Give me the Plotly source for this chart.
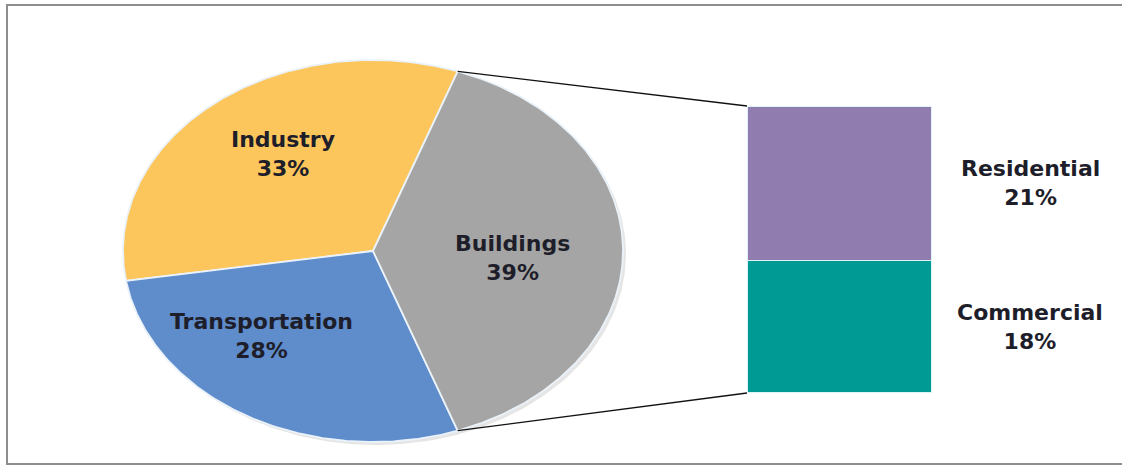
import numpy as np
import plotly.graph_objects as go

# ---------------- data ----------------
pie_labels = ["Industry", "Transportation", "Buildings"]
pie_values = [33, 28, 39]
pie_colors = ["#FCC65C", "#5F8CCB", "#A5A5A5"]

bar_labels = ["Residential", "Commercial"]
bar_values = [21, 18]
bar_colors = ["#917CAF", "#009A95"]

# ---------------- layout constants (pixels) ----------------
W, H = 1122, 465
CX, CY, RX, RY = 373, 251, 250, 191          # ellipse of the pie
BAR_X0, BAR_X1, BAR_Y0, BAR_Y1 = 747, 932, 106, 393
FONT = dict(family="DejaVu Sans", size=22, color="#1e1e2a")
pie_label_pos = {"Industry": (283, 154), "Transportation": (261, 336), "Buildings": (512, 258)}
bar_label_x = 1030

fig = go.Figure()

# frame: open on the right side (right edge lies outside the picture)
fig.add_trace(go.Scatter(x=[W + 20, 7, 7, W + 20], y=[5, 5, 464, 464], mode="lines",
                         line=dict(color="#8E8E8E", width=2), hoverinfo="skip",
                         showlegend=False, xaxis="x", yaxis="y"))

# shadow of pie
t = np.linspace(0, 2 * np.pi, 300)
fig.add_trace(go.Scatter(x=CX + 3 + RX * np.cos(t), y=CY + 3 - RY * np.sin(t), mode="lines",
                         fill="toself", fillcolor="rgba(0,0,0,0.10)", line=dict(width=0),
                         hoverinfo="skip", showlegend=False, xaxis="x", yaxis="y"))

# pie slices: Buildings (the split-off slice) centered at 0 deg, others counterclockwise
total = sum(pie_values)
b_idx = pie_labels.index("Buildings")
start = np.deg2rad(pie_values[b_idx] / total * 180.0)
angles = {}
a = start
for lab, val in zip(pie_labels, pie_values):
    if lab == "Buildings":
        continue
    span = val / total * 2 * np.pi
    angles[lab] = (a, a + span)
    a += span
angles["Buildings"] = (-start, start)

for lab, val, col in zip(pie_labels, pie_values, pie_colors):
    a0, a1 = angles[lab]
    th = np.linspace(a0, a1, 200)
    xs = np.concatenate([[CX], CX + RX * np.cos(th), [CX]])
    ys = np.concatenate([[CY], CY - RY * np.sin(th), [CY]])
    fig.add_trace(go.Scatter(x=xs, y=ys, mode="lines", fill="toself", fillcolor=col,
                             line=dict(color="#EAF2FA", width=1.8), name=lab,
                             hoverinfo="name", showlegend=False, xaxis="x", yaxis="y"))
    lx, ly = pie_label_pos[lab]
    fig.add_annotation(x=lx, y=ly, xref="x", yref="y", showarrow=False, xanchor="center",
                       yanchor="middle", text=f"<b>{lab}<br>{val}%</b>", font=FONT, align="center")

# connector lines from Buildings slice edges to the bar corners
top_pt = (CX + RX * np.cos(start), CY - RY * np.sin(start))
bot_pt = (CX + RX * np.cos(-start), CY - RY * np.sin(-start))
fig.add_trace(go.Scatter(x=[top_pt[0], BAR_X0], y=[top_pt[1], BAR_Y0], mode="lines",
                         line=dict(color="#111111", width=1.3), hoverinfo="skip",
                         showlegend=False, xaxis="x", yaxis="y"))
fig.add_trace(go.Scatter(x=[bot_pt[0], BAR_X0], y=[bot_pt[1], BAR_Y1], mode="lines",
                         line=dict(color="#111111", width=1.3), hoverinfo="skip",
                         showlegend=False, xaxis="x", yaxis="y"))

# stacked bar (Commercial at bottom, Residential on top)
for lab, val, col in reversed(list(zip(bar_labels, bar_values, bar_colors))):
    fig.add_trace(go.Bar(x=[0], y=[val], name=lab, marker=dict(color=col, line=dict(color="#DDF4F6", width=1.2)),
                         width=1.0, showlegend=False, xaxis="x2", yaxis="y2", hoverinfo="name+y"))
base = 0
centers = {}
for lab, val in reversed(list(zip(bar_labels, bar_values))):
    centers[lab] = base + val / 2
    base += val
for lab, val in zip(bar_labels, bar_values):
    fig.add_annotation(x=bar_label_x / W, y=centers[lab], xref="paper", yref="y2", showarrow=False,
                       xanchor="center", yanchor="middle",
                       text=f"<b>{lab}<br>{val}%</b>", font=FONT, align="center")

fig.update_layout(
    width=W, height=H, margin=dict(l=0, r=0, t=0, b=0),
    paper_bgcolor="white", plot_bgcolor="rgba(0,0,0,0)", barmode="stack",
    xaxis=dict(range=[0, W], domain=[0, 1], visible=False, fixedrange=True),
    yaxis=dict(range=[H, 0], domain=[0, 1], visible=False, fixedrange=True),
    xaxis2=dict(range=[-0.5, 0.5], domain=[BAR_X0 / W, BAR_X1 / W], visible=False, anchor="y2"),
    yaxis2=dict(range=[0, sum(bar_values)], domain=[1 - BAR_Y1 / H, 1 - BAR_Y0 / H], visible=False, anchor="x2"),
)

fig.write_html("out.html", config={"displayModeBar": False},
               post_script="document.body.style.margin='0';document.body.style.overflow='hidden';")
